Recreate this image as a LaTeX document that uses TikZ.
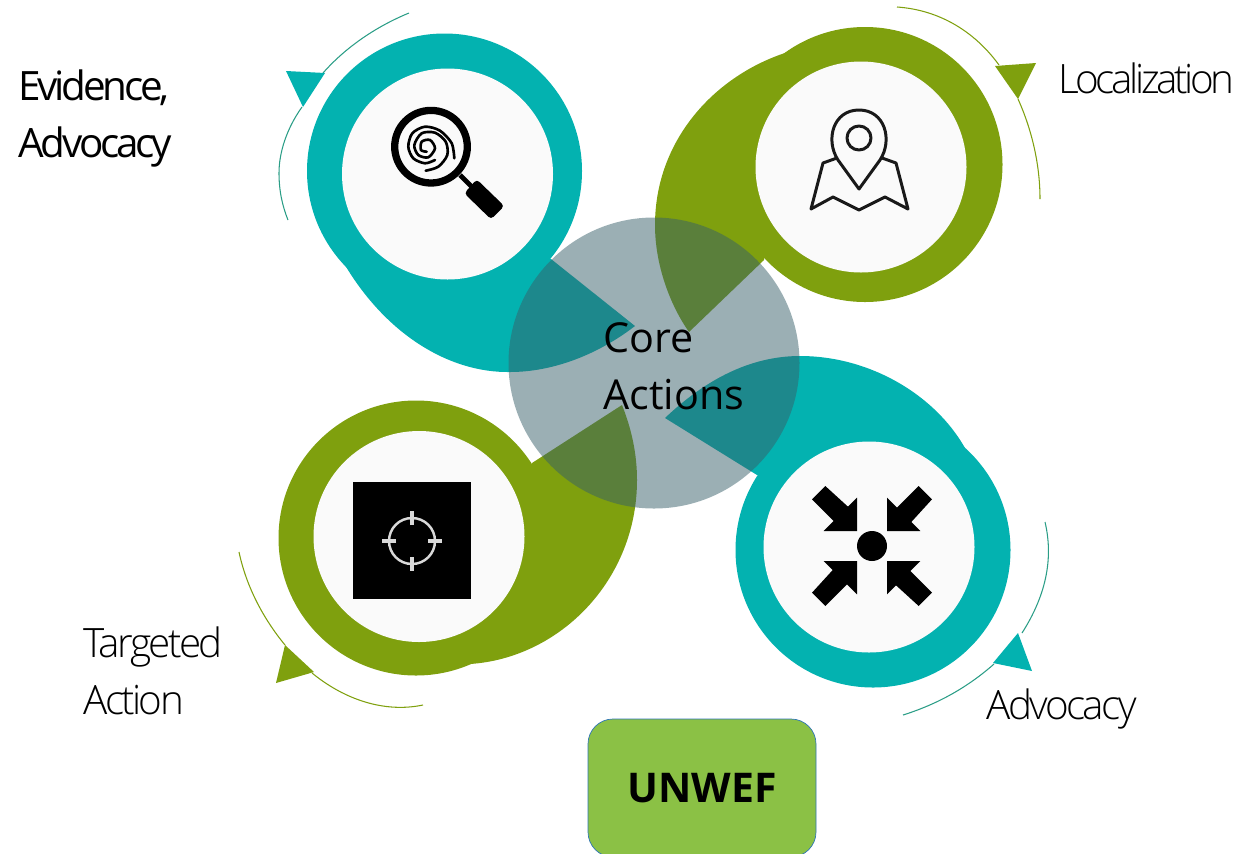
\documentclass[tikz,border=0pt]{standalone}
\usepackage{fontspec}
\setmainfont{Open Sans}
\newfontfamily\lightfont[LetterSpace=-6.5]{Open Sans Light}
\newfontfamily\tightfont[LetterSpace=-8.5]{Open Sans Light}
\newfontfamily\darkfont[LetterSpace=-8]{Open Sans}
\definecolor{mteal}{HTML}{03B2B0}
\definecolor{molive}{HTML}{7FA00E}
\definecolor{mline}{HTML}{2A9D86}
\definecolor{mcore}{HTML}{375F69}
\definecolor{mwhite}{HTML}{FAFAFA}
\definecolor{mbox}{HTML}{8BC145}
\definecolor{mboxline}{HTML}{2E75B6}
\tikzset{
    petal/.style={fill=#1},
    hole/.style={fill=mwhite},
    tag/.style={font=\lightfont\fontsize{23}{32.5}\selectfont, align=left, anchor=west, inner sep=0pt},
    iconline/.style={draw=black!90, line width=1.7pt, line join=round},
    swirl/.style={line width=1.5pt, line cap=round}
}
\begin{document}
\begin{tikzpicture}[x=0.02cm, y=-0.02cm]
    \useasboundingbox (0, 0) rectangle (1240, 853);
    % petals
    \fill[petal=mteal] (444.5, 171) circle[radius=137.5];
    \fill[petal=mteal] (342, 260) .. controls (385, 335) and (450, 373) .. (510, 372) .. controls (555, 372) and (600, 353) .. (635, 326) -- (551, 259) -- cycle;
    \fill[petal=molive] (865, 164.5) circle[radius=137.5];
    \fill[petal=molive] (788, 52) .. controls (715, 75) and (655, 140) .. (655, 225) .. controls (655, 265) and (670, 305) .. (689, 332) -- (764, 260) -- cycle;
    \fill[petal=mteal] (873, 550) circle[radius=137.5];
    \fill[petal=mteal] (965, 448) .. controls (935, 395) and (870, 356) .. (800, 356) .. controls (750, 356) and (705, 380) .. (665, 418) -- (757, 475) -- cycle;
    \fill[petal=molive] (416, 538) circle[radius=137.5];
    \fill[petal=molive] (532, 463) -- (622, 405) .. controls (632, 430) and (637, 455) .. (637, 480) .. controls (637, 580) and (560, 658) .. (470, 664) -- cycle;
    \fill[hole] (447.5, 174) circle[radius=105.5];
    \fill[hole] (861, 167) circle[radius=105.5];
    \fill[hole] (869, 547) circle[radius=105.5];
    \fill[hole] (419, 536.5) circle[radius=105.5];
    \fill[mcore, opacity=0.5] (654, 363) circle[radius=145.5];
    % arrows round the petals
    \draw[mline, line width=0.6pt] (409, 13) .. controls (375, 27) and (345, 48) .. (323, 73);
    \draw[mline, line width=0.6pt] (302, 107) .. controls (287, 128) and (279, 152) .. (279, 173) .. controls (279, 190) and (282, 205) .. (288, 220);
    \fill[mteal] (286, 71) -- (325, 73) -- (303, 107) -- cycle;
    \draw[molive, line width=0.6pt] (897, 7) .. controls (940, 10) and (975, 32) .. (999, 65);
    \draw[molive, line width=0.6pt] (1018, 99) .. controls (1032, 130) and (1040, 165) .. (1040, 199);
    \fill[molive] (995, 66) -- (1036, 63) -- (1018, 99) -- cycle;
    \draw[molive, line width=0.6pt] (239, 552) .. controls (246, 585) and (262, 617) .. (285, 645);
    \draw[molive, line width=0.6pt] (312, 673) .. controls (345, 700) and (385, 713) .. (423, 705);
    \fill[molive] (285, 645) -- (314, 672) -- (276, 683) -- cycle;
    \draw[mline, line width=0.6pt] (1045, 522) .. controls (1054, 560) and (1045, 597) .. (1022, 633);
    \draw[mline, line width=0.6pt] (994, 664) .. controls (968, 687) and (938, 704) .. (903, 715);
    \fill[mteal] (1018, 633) -- (1032, 671) -- (993, 663) -- cycle;
    % magnifier
    \draw[line width=4.15pt] (431, 146.7) circle[radius=36.3];
    \draw[line width=2.8pt] (460, 175) -- (472, 187);
    \fill[rounded corners=2pt] (476.7, 179.3) -- (504.3, 206) -- (491, 219.3) -- (464.3, 193.3) -- cycle;
    \draw[swirl] plot[smooth] coordinates {(454.3, 158.3) (451.7, 143.3) (440, 130.7) (425, 126.7) (412.3, 133.3) (408.3, 146.7) (413.3, 158.3) (425, 163.3) (435, 160)};
    \draw[swirl] plot[smooth] coordinates {(425.7, 170.7) (438.3, 166.7) (447.3, 155) (445.7, 141.7) (435, 132.7) (421.7, 133.3) (414.3, 145) (418.3, 155) (428.3, 157.3) (435, 148.3) (430, 140) (421.7, 141.7) (421, 150) (426.7, 151.7)};
    % map
    \draw[iconline] (859, 189) -- (838, 160) .. controls (825, 140) and (833, 110) .. (859, 110) .. controls (885, 110) and (893, 140) .. (880, 160) -- cycle;
    \draw[iconline] (859, 138) circle[radius=12];
    \draw[iconline] (837, 158) -- (823, 163) -- (811, 209) -- (833, 197) -- (859, 210) -- (885, 197) -- (908, 209) -- (896, 163) -- (882, 158);
    % target
    \fill[black] (353, 482) rectangle (471, 599);
    \draw[white!85!black, line width=1.4pt] (412, 541) circle[radius=23];
    \foreach \a in {0, 90, 180, 270} {
        \draw[white!85!black, line width=1.8pt, shift={(412, 541)}] (\a:16) -- (\a:30);
    }
    % gather point
    \fill[black] (872, 546) circle[radius=15];
    \foreach \a in {0, 90, 180, 270} {
        \fill[black, shift={(872, 546)}, rotate=\a] (-46.7, -60) -- (-24, -39.3) -- (-15, -48.3) -- (-15, -15) -- (-48.3, -15) -- (-38.3, -25) -- (-60, -46.7) -- cycle;
    }
    % labels
    \node[tag, font=\darkfont\fontsize{23}{32.5}\selectfont] (evidence) at (18, 118.5) {Evidence,\\Advocacy};
    \node[tag, font=\tightfont\fontsize{23}{32.5}\selectfont] (localization) at (1058, 78) {Localization};
    \node[tag] (targeted) at (83, 671) {Targeted\\Action};
    \node[tag] (advocacy) at (986, 709) {Advocacy};
    \node[font=\fontsize{23.5}{32.5}\selectfont, align=left, anchor=west, inner sep=0pt] (core) at (603, 366.5) {Core\\Actions};
    \node[draw=mboxline, fill=mbox, rounded corners=0.5cm, minimum width=228*0.02cm, minimum height=138*0.02cm, font=\bfseries\fontsize{23.3}{27}\selectfont] (unwef) at (702, 788) {UNWEF};
\end{tikzpicture}
\end{document}
